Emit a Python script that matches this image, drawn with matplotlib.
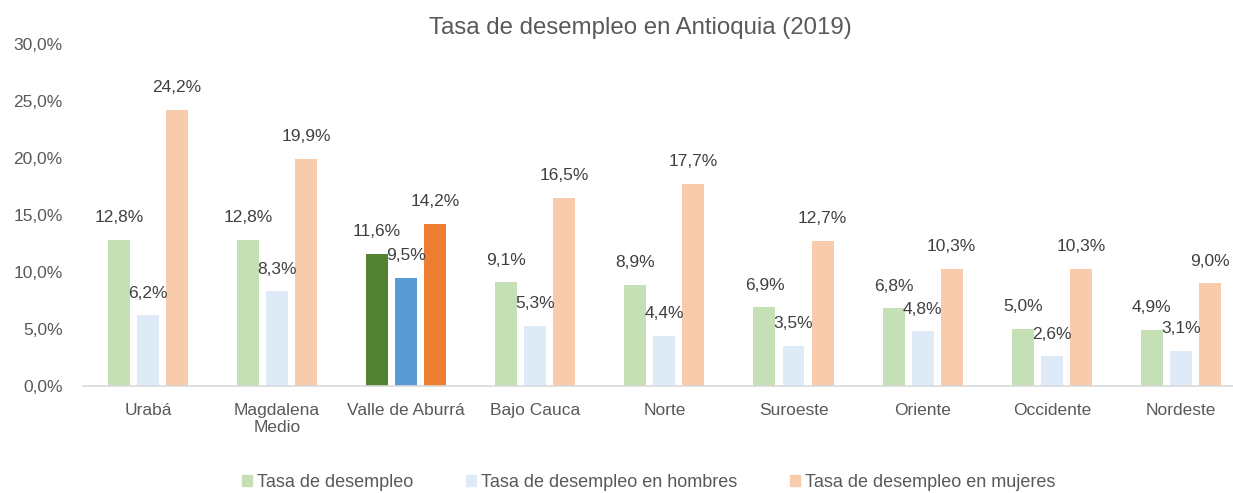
import matplotlib
matplotlib.use("Agg")
import matplotlib.pyplot as plt
from matplotlib.patches import Patch
import numpy as np

plt.rcParams['font.family'] = ['Liberation Sans', 'DejaVu Sans']

categories = ["Urabá", "Magdalena\nMedio", "Valle de Aburrá", "Bajo Cauca", "Norte",
              "Suroeste", "Oriente", "Occidente", "Nordeste"]
tasa = [12.8, 12.8, 11.6, 9.1, 8.9, 6.9, 6.8, 5.0, 4.9]
hombres = [6.2, 8.3, 9.5, 5.3, 4.4, 3.5, 4.8, 2.6, 3.1]
mujeres = [24.2, 19.9, 14.2, 16.5, 17.7, 12.7, 10.3, 10.3, 9.0]
series_names = ["Tasa de desempleo", "Tasa de desempleo en hombres", "Tasa de desempleo en mujeres"]
yticks = [0, 5, 10, 15, 20, 25, 30]

light = ["#c5e0b4", "#deebf7", "#f8cbad"]
dark = ["#548235", "#5b9bd5", "#ed7d31"]
highlight = 2

fig = plt.figure(figsize=(12.33, 4.93), dpi=100)
ax = fig.add_axes([0.0676, 0.217, 0.9425, 0.694])

x = np.arange(len(categories))
w = 0.17
offsets = [-0.225, 0.0, 0.225]
txt = "#404040"
for s, (vals, off) in enumerate(zip([tasa, hombres, mujeres], offsets)):
    cols = [dark[s] if i == highlight else light[s] for i in range(len(vals))]
    ax.bar(x + off, vals, width=w, color=cols)
    for xi, v in zip(x + off, vals):
        ax.annotate(f"{v:.1f}%".replace(".", ","), (xi, v), xytext=(0, 16),
                    textcoords="offset points", ha="center", va="center",
                    fontsize=12.5, color=txt)

ax.set_xlim(-0.5, len(categories) - 0.5)
ax.set_ylim(0, 30)
ax.set_yticks(yticks)
ax.set_yticklabels([f"{t:.1f}%".replace(".", ",") for t in yticks], fontsize=12.5, color="#595959")
ax.set_xticks(x)
ax.set_xticklabels(categories, fontsize=12.5, color="#595959")
ax.tick_params(axis='x', length=0, pad=12)
ax.tick_params(axis='y', length=0, pad=15)
for sp in ["top", "right", "left"]:
    ax.spines[sp].set_visible(False)
ax.spines["bottom"].set_color("#d9d9d9")
ax.spines["bottom"].set_linewidth(1.2)

fig.text(0.519, 0.943, "Tasa de desempleo en Antioquia (2019)", ha="center", va="center",
         fontsize=17.3, color="#595959")

handles = [Patch(color=c) for c in light]
fig.legend(handles, series_names, loc="center", bbox_to_anchor=(0.526, 0.022), ncol=3,
           frameon=False, fontsize=13, handlelength=0.55, handleheight=0.55,
           handletextpad=0.3, columnspacing=2.9, labelcolor="#595959",
           borderpad=0, borderaxespad=0)

fig.savefig("out.png", dpi=100)
